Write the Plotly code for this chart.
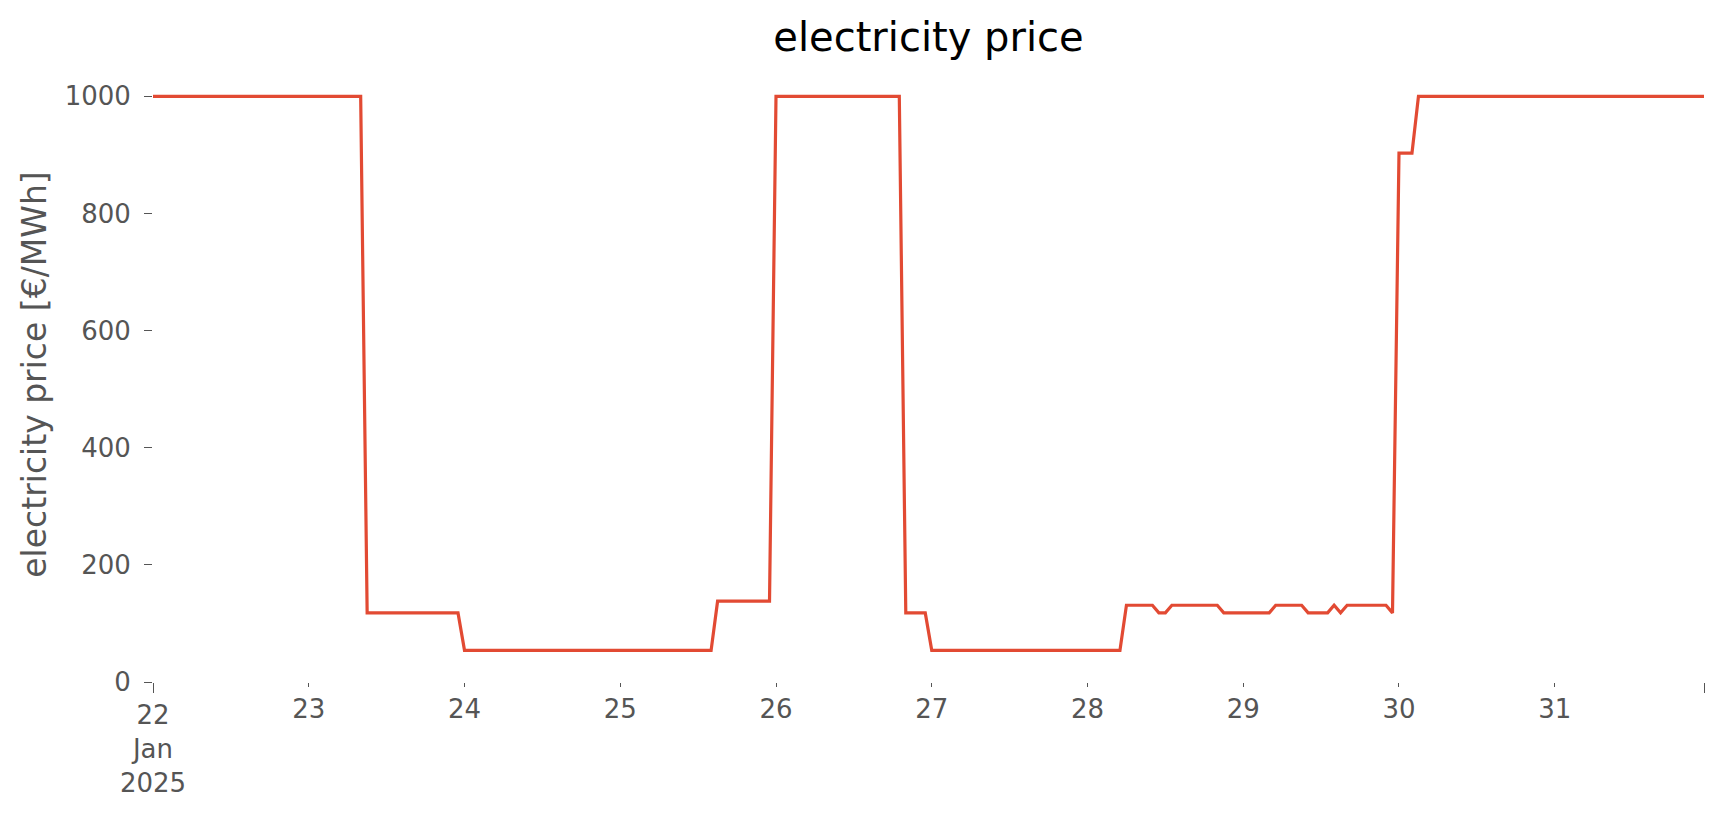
import pandas as pd
import plotly.graph_objects as go

# ---- data (hourly electricity price, €/MWh) ----
start = "2025-01-22 00:00"
day_22 = [1000] * 24
day_23 = [1000] * 9 + [118] * 15
day_24 = [54] * 24
day_25 = [54] * 15 + [138] * 9
day_26 = [1000] * 20 + [118] * 4
day_27 = [54] * 24
day_28 = [54] * 6 + [131] * 5 + [118] * 2 + [131] * 8 + [118] * 3
day_29 = [118] * 5 + [131] * 5 + [118] * 4 + [131] + [118] + [131] * 7 + [118]
day_30 = [903] * 3 + [1000] * 21
day_31 = [1000] * 24

price = (day_22 + day_23 + day_24 + day_25 + day_26 + day_27 +
         day_28 + day_29 + day_30 + day_31)
times = pd.date_range(start, periods=len(price), freq="h")

day_ticks = pd.date_range("2025-01-23", "2025-01-31", freq="D")
day_labels = [str(d.day) for d in day_ticks]
major_ticks = [times[0], times[-1]]
major_labels = ["22<br>Jan<br>2025", ""]
y_ticks = [0, 200, 400, 600, 800, 1000]

FONT = "DejaVu Sans"
GREY = "#555555"

fig = go.Figure()
fig.add_trace(go.Scatter(x=times, y=price, mode="lines",
                         line=dict(color="#E24A33", width=3.2),
                         showlegend=False, hoverinfo="x+y"))
# invisible helper trace for the major-tick axis
fig.add_trace(go.Scatter(x=[times[0]], y=[None], xaxis="x2",
                         showlegend=False, hoverinfo="skip"))

xrange = [times[0], times[-1]]
fig.update_layout(
    width=1724, height=815,
    margin=dict(l=153, r=20, t=67, b=133),
    paper_bgcolor="white", plot_bgcolor="white",
    font=dict(family=FONT, color=GREY),
    title=dict(text="electricity price", x=0.5, xref="paper", xanchor="center",
               y=1 - 37 / 815, yref="container", yanchor="middle",
               font=dict(family=FONT, size=40, color="black")),
    xaxis=dict(type="date", range=xrange, showgrid=False, zeroline=False,
               showline=False, tickmode="array", tickvals=list(day_ticks),
               ticktext=day_labels, ticks="outside", ticklen=4, tickwidth=1.3,
               tickcolor=GREY, tickfont=dict(family=FONT, size=26, color=GREY)),
    xaxis2=dict(type="date", range=xrange, overlaying="x", anchor="y", side="bottom",
                showgrid=False, zeroline=False, showline=False,
                tickmode="array", tickvals=major_ticks, ticktext=major_labels,
                ticks="outside", ticklen=10, tickwidth=1.3, tickcolor=GREY,
                tickfont=dict(family=FONT, size=26, color=GREY)),
    yaxis=dict(range=[0, 1050], showgrid=False, zeroline=False, showline=False,
               tickmode="array", tickvals=y_ticks, ticks="outside", ticklen=8,
               tickwidth=1.3, tickcolor=GREY, ticklabelstandoff=8,
               tickfont=dict(family=FONT, size=26, color=GREY),
               title=dict(text="electricity price [€/MWh]", standoff=8,
                          font=dict(family=FONT, size=33, color=GREY))),
)

fig.write_html("out.html", config={"displayModeBar": False},
               post_script="document.body.style.margin='0';document.body.style.overflow='hidden';")
